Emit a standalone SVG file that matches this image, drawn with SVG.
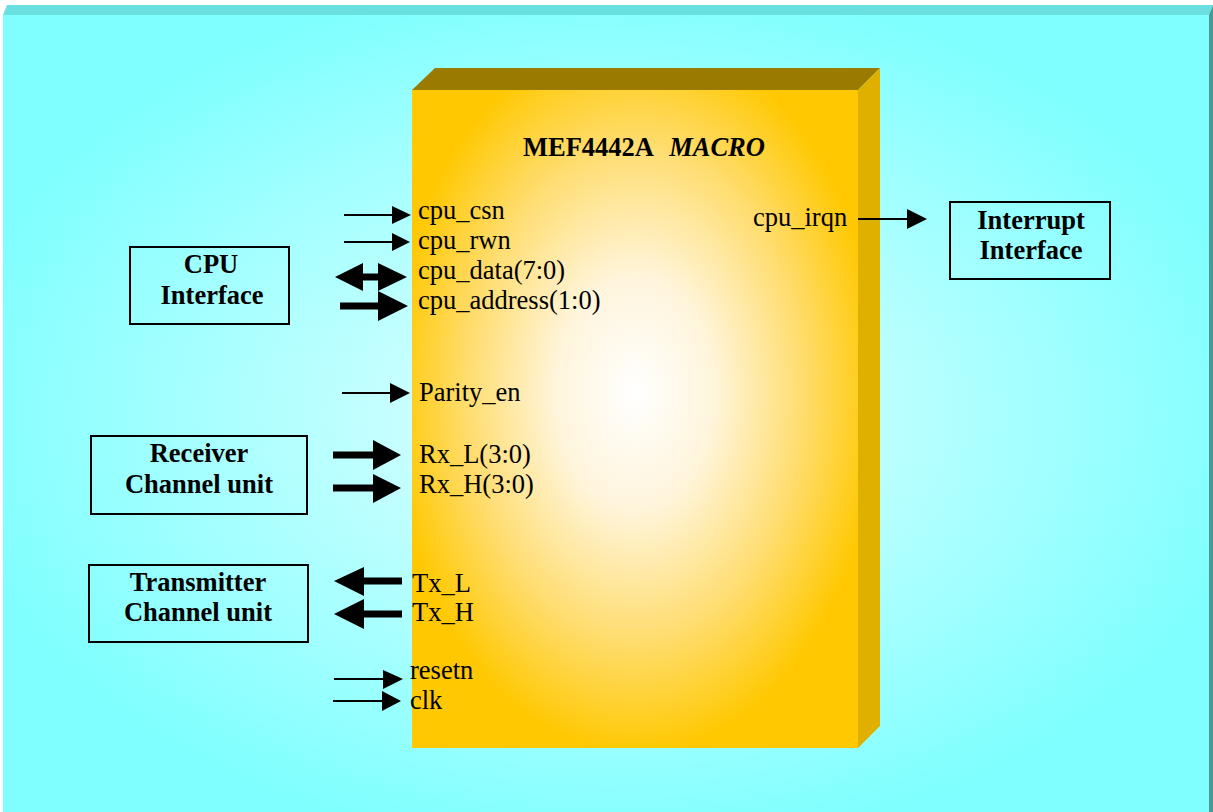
<svg xmlns="http://www.w3.org/2000/svg" width="1213" height="812" viewBox="0 0 1213 812">
  <defs>
    <radialGradient id="bgGrad" cx="0.5" cy="0.5" r="0.55">
      <stop offset="0" stop-color="#E6FFFF"/>
      <stop offset="0.45" stop-color="#B8FFFF"/>
      <stop offset="1" stop-color="#7FFFFF"/>
    </radialGradient>
    <radialGradient id="chipGrad" cx="0.5" cy="0.46" r="0.55">
      <stop offset="0" stop-color="#FFFFFF"/>
      <stop offset="0.32" stop-color="#FFF5DC"/>
      <stop offset="0.68" stop-color="#FFDD70"/>
      <stop offset="1" stop-color="#FFC800"/>
    </radialGradient>
    <style>
      .lbl { font-family: "Liberation Serif", "Times New Roman", serif; font-size: 26.5px; fill: #000; }
      .bold { font-family: "Liberation Serif", "Times New Roman", serif; font-size: 26.5px; font-weight: bold; fill: #000; text-anchor: middle; }
      .box { fill: none; stroke: #000; stroke-width: 2; }
      .thin { stroke: #000; stroke-width: 2; fill: none; }
      .thick { stroke: #000; stroke-width: 7; fill: none; }
      .head { fill: #000; }
    </style>
  </defs>

  <!-- backdrop slab -->
  <g id="backdrop">
    <polygon points="3,15 7,5 1213,5 1209,15" fill="#6ADFDF"/>
    <polygon points="1209,15 1213,5 1213,812 1209,812" fill="#4A9A94"/>
    <rect x="3" y="15" width="1206" height="797" fill="url(#bgGrad)"/>
  </g>

  <!-- macro block -->
  <g id="macro">
    <polygon points="412,90 435,68 880,68 858,90" fill="#9A7B00"/>
    <polygon points="858,90 880,68 880,726 858,748" fill="#E0B000"/>
    <rect x="412" y="90" width="446" height="658" fill="url(#chipGrad)"/>
    <text x="523" y="156" class="lbl" font-weight="bold">MEF4442A <tspan font-style="italic" dx="10">MACRO</tspan></text>
    <text x="418" y="219" class="lbl">cpu_csn</text>
    <text x="418" y="249" class="lbl">cpu_rwn</text>
    <text x="418" y="279" class="lbl">cpu_data(7:0)</text>
    <text x="418" y="309" class="lbl">cpu_address(1:0)</text>
    <text x="419" y="401" class="lbl">Parity_en</text>
    <text x="419" y="463" class="lbl">Rx_L(3:0)</text>
    <text x="419" y="493" class="lbl">Rx_H(3:0)</text>
    <text x="412" y="592" class="lbl">Tx_L</text>
    <text x="412" y="621" class="lbl">Tx_H</text>
    <text x="410" y="679" class="lbl">resetn</text>
    <text x="410" y="709" class="lbl">clk</text>
    <text x="753" y="226" class="lbl">cpu_irqn</text>
  </g>

  <g id="cpu-interface">
    <rect x="130" y="247" width="159" height="77" class="box"/>
    <text x="211" y="273" class="bold">CPU</text>
    <text x="212" y="304" class="bold">Interface</text>
  </g>

  <g id="receiver-unit">
    <rect x="91" y="436" width="216" height="78" class="box"/>
    <text x="199" y="462" class="bold">Receiver</text>
    <text x="199" y="493" class="bold">Channel unit</text>
  </g>

  <g id="transmitter-unit">
    <rect x="89" y="565" width="219" height="77" class="box"/>
    <text x="198" y="591" class="bold">Transmitter</text>
    <text x="198" y="621" class="bold">Channel unit</text>
  </g>

  <g id="interrupt-interface">
    <rect x="950" y="202" width="160" height="77" class="box"/>
    <text x="1031" y="229" class="bold">Interrupt</text>
    <text x="1031" y="259" class="bold">Interface</text>
  </g>

  <!-- signal arrows -->
  <g id="connectors">
    <!-- cpu_csn -->
    <line x1="344" y1="215" x2="394" y2="215" class="thin"/>
    <polygon points="392,206 411,215 392,224" class="head"/>
    <!-- cpu_rwn -->
    <line x1="344" y1="242" x2="394" y2="242" class="thin"/>
    <polygon points="392,233 410,242 392,251" class="head"/>
    <!-- cpu_data bidirectional -->
    <line x1="360" y1="277" x2="381" y2="277" class="thick"/>
    <polygon points="363,263 335,277 363,291" class="head"/>
    <polygon points="378,263 407,277 378,291" class="head"/>
    <!-- cpu_address -->
    <line x1="340" y1="306" x2="381" y2="306" class="thick"/>
    <polygon points="378,291 408,306 378,321" class="head"/>
    <!-- Parity_en -->
    <line x1="342" y1="393" x2="392" y2="393" class="thin"/>
    <polygon points="390,383 410,393 390,403" class="head"/>
    <!-- Rx_L -->
    <line x1="333" y1="455" x2="376" y2="455" class="thick"/>
    <polygon points="373,440 401,455 373,470" class="head"/>
    <!-- Rx_H -->
    <line x1="333" y1="488" x2="376" y2="488" class="thick"/>
    <polygon points="373,474 401,488 373,503" class="head"/>
    <!-- Tx_L -->
    <line x1="402" y1="581" x2="361" y2="581" class="thick"/>
    <polygon points="364,567 334,581 364,596" class="head"/>
    <!-- Tx_H -->
    <line x1="402" y1="614" x2="361" y2="614" class="thick"/>
    <polygon points="364,599 334,614 364,629" class="head"/>
    <!-- resetn -->
    <line x1="334" y1="679" x2="385" y2="679" class="thin"/>
    <polygon points="383,670 403,679 383,689" class="head"/>
    <!-- clk -->
    <line x1="333" y1="701" x2="384" y2="701" class="thin"/>
    <polygon points="382,691 401,701 382,711" class="head"/>
    <!-- cpu_irqn -->
    <line x1="858" y1="219" x2="909" y2="219" class="thin"/>
    <polygon points="907,209 927,219 907,229" class="head"/>
  </g>
</svg>
